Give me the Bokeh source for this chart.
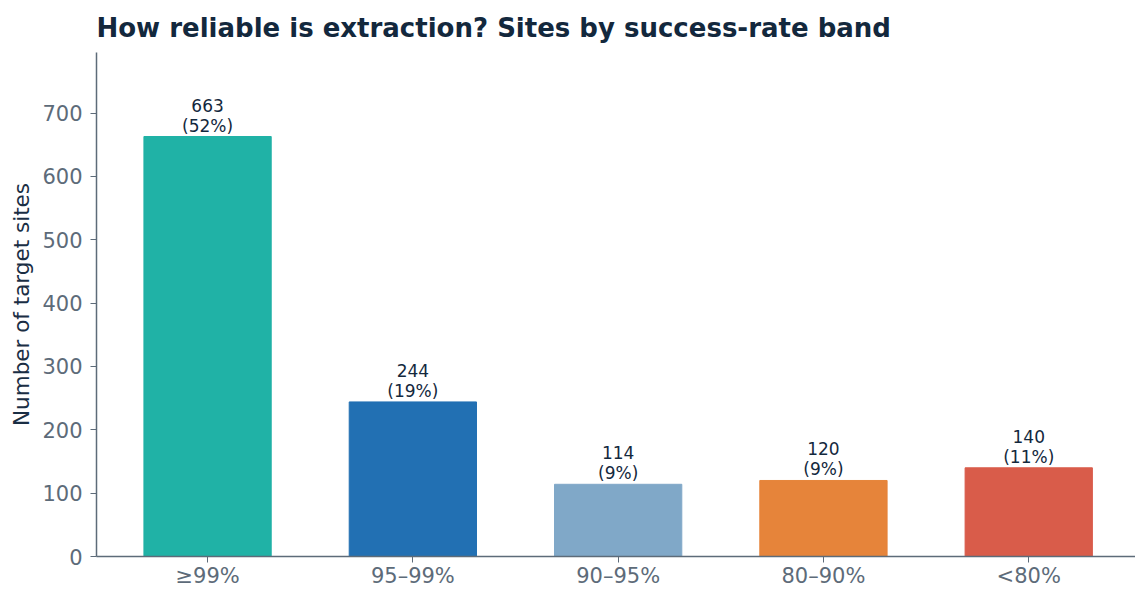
from bokeh.plotting import figure
from bokeh.models import ColumnDataSource, FixedTicker, Range1d
from bokeh.core.properties import value
from bokeh.embed import file_html
from bokeh.resources import INLINE

categories = ["\u226599%", "95\u201399%", "90\u201395%", "80\u201390%", "<80%"]
counts = [663, 244, 114, 120, 140]
shares = [52, 19, 9, 9, 11]
colors = ["#20b2a6", "#2270b3", "#80a8c8", "#e6843a", "#d95c4a"]

total_n = len(categories)
xs = list(range(total_n))
labels = [f"{c}\n({s}%)" for c, s in zip(counts, shares)]

src = ColumnDataSource(dict(x=xs, top=counts, color=colors, label=labels, cat=categories))

FONT = "DejaVu Sans"
TEXT = "#13283d"
AXIS = "#5d6b79"

p = figure(width=1135, height=590, output_backend="svg", toolbar_location=None,
           x_range=Range1d(-0.541, 4.52), y_range=Range1d(0, max(counts) * 1.2),
           min_border_left=96, min_border_right=0, min_border_top=52, min_border_bottom=34)

p.vbar(x="x", top="top", width=0.62, color="color", source=src)
p.text(x="x", y="top", text="label", source=src, text_align="center", text_baseline="bottom",
       text_font=value(FONT), text_font_size="17px", text_color=TEXT, text_line_height=1.0,
       y_offset=-1)

p.title.text = "How reliable is extraction? Sites by success-rate band"
p.title.text_font = FONT
p.title.text_font_size = "26px"
p.title.text_font_style = "bold"
p.title.text_color = TEXT
p.title.offset = 0
p.title.standoff = 19

p.xgrid.visible = False
p.ygrid.visible = False
p.outline_line_color = None

xa = p.xaxis[0]
xa.ticker = FixedTicker(ticks=xs)
xa.major_label_overrides = {i: c for i, c in zip(xs, categories)}
xa.minor_tick_line_color = None
xa.major_tick_out = 6
xa.major_tick_in = 0
xa.axis_line_color = AXIS
xa.axis_line_width = 1.5
xa.major_tick_line_color = AXIS
xa.major_label_text_font = FONT
xa.major_label_text_font_size = "21px"
xa.major_label_text_color = AXIS
xa.major_label_standoff = 1

ya = p.yaxis[0]
ya.ticker = FixedTicker(ticks=[0, 100, 200, 300, 400, 500, 600, 700])
ya.minor_tick_line_color = None
ya.major_tick_out = 6
ya.major_tick_in = 0
ya.axis_line_color = AXIS
ya.axis_line_width = 1.5
ya.major_tick_line_color = AXIS
ya.major_label_text_font = FONT
ya.major_label_text_font_size = "21px"
ya.major_label_text_color = AXIS
ya.major_label_standoff = 8
ya.axis_label = "Number of target sites"
ya.axis_label_text_font = FONT
ya.axis_label_text_font_size = "21.5px"
ya.axis_label_text_font_style = "normal"
ya.axis_label_text_color = "#1a2e44"
ya.axis_label_standoff = 5

open("out.html", "w").write(file_html(p, INLINE))
